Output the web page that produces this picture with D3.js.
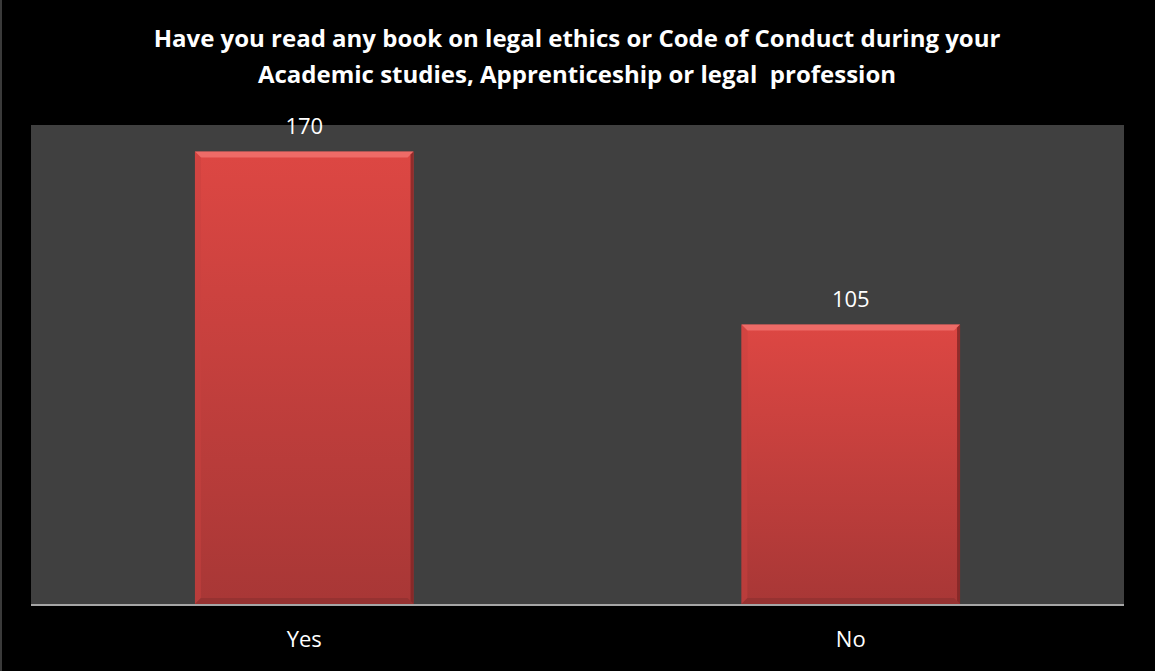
<!DOCTYPE html>
<html><head><meta charset="utf-8">
<script src="https://cdn.jsdelivr.net/npm/d3@7"></script>
<style>html,body{margin:0;padding:0;background:#000;}svg{display:block;}</style>
</head><body>
<script>
const categories = ["Yes", "No"];
const values = [170, 105];
const titleLines = ["Have you read any book on legal ethics or Code of Conduct during your",
                    "Academic studies, Apprenticeship or legal  profession"];

const W = 1155, H = 671;
const plot = {left: 31, right: 1124, top: 125, bottom: 604};
const svg = d3.select("body").append("svg").attr("width", W).attr("height", H);
const font = "'Open Sans', 'Noto Sans', sans-serif";

svg.append("rect").attr("width", W).attr("height", H).attr("fill", "#000");
svg.append("rect").attr("x", 0).attr("y", 0).attr("width", 2).attr("height", H).attr("fill", "#3a3a3a");

const defs = svg.append("defs");
const g1 = defs.append("linearGradient").attr("id", "barGrad").attr("x1", 0).attr("y1", 0).attr("x2", 0).attr("y2", 1);
g1.append("stop").attr("offset", "0%").attr("stop-color", "#dd4743");
g1.append("stop").attr("offset", "100%").attr("stop-color", "#a83736");

svg.append("rect").attr("x", plot.left).attr("y", plot.top)
  .attr("width", plot.right - plot.left).attr("height", plot.bottom - plot.top).attr("fill", "#404040");

const x = d3.scaleBand().domain(categories).range([plot.left, plot.right]).paddingInner(0.6).paddingOuter(0.3);
const y = d3.scaleLinear().domain([0, 180]).range([plot.bottom, plot.top]);

const data = categories.map((c, i) => ({c, v: values[i]}));
const bars = svg.append("g").selectAll("g").data(data).join("g");
const b = 6;
bars.each(function(d) {
  const g = d3.select(this);
  const x0 = x(d.c), x1 = x(d.c) + x.bandwidth(), y0 = y(d.v), y1 = y(0);
  g.append("rect").attr("x", x0).attr("y", y0).attr("width", x1 - x0).attr("height", y1 - y0).attr("fill", "url(#barGrad)");
  // bevels
  g.append("polygon").attr("points", [[x0,y0],[x1,y0],[x1-b,y0+b],[x0+b,y0+b]].join(" ")).attr("fill", "#f27470").attr("opacity", 0.8);
  g.append("polygon").attr("points", [[x0,y0],[x0+b,y0+b],[x0+b,y1-b],[x0,y1]].join(" ")).attr("fill", "#c94140").attr("opacity", 0.5);
  g.append("polygon").attr("points", [[x1,y0],[x1,y1],[x1-3,y1-3],[x1-3,y0+3]].join(" ")).attr("fill", "#7e2525").attr("opacity", 0.8);
  g.append("polygon").attr("points", [[x0,y1],[x1,y1],[x1-b,y1-b],[x0+b,y1-b]].join(" ")).attr("fill", "#8a2f2f").attr("opacity", 0.6);
});

// value labels
svg.append("g").selectAll("text").data(data).join("text")
  .attr("x", d => x(d.c) + x.bandwidth() / 2).attr("y", d => y(d.v) - 18)
  .attr("text-anchor", "middle").attr("fill", "#fff").attr("font-family", font).attr("font-size", 22)
  .text(d => d.v);

// axis
const axis = svg.append("g").attr("transform", `translate(0,${plot.bottom})`)
  .call(d3.axisBottom(x).tickSize(0).tickPadding(0));
axis.select(".domain").remove();
axis.append("line").attr("x1", plot.left).attr("x2", plot.right).attr("y1", 1).attr("y2", 1)
  .attr("stroke", "#a6a6a6").attr("stroke-width", 2);
axis.selectAll(".tick text").attr("fill", "#fff").attr("font-family", font).attr("font-size", 22)
  .attr("dy", null).attr("y", 43);

// title
svg.append("g").selectAll("text").data(titleLines).join("text")
  .attr("x", 577).attr("y", (d, i) => 47 + i * 36)
  .attr("text-anchor", "middle").attr("fill", "#fff").attr("font-family", font)
  .attr("font-weight", "bold").attr("font-size", 24)
  .attr("xml:space", "preserve").style("white-space", "pre")
  .text(d => d);
</script>
</body></html>
